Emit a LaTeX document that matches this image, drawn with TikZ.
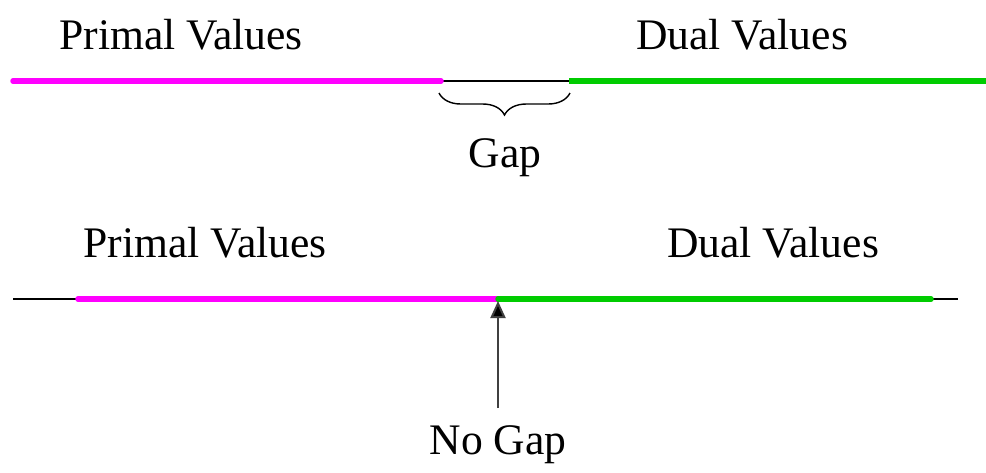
\documentclass[tikz,border=0pt]{standalone}
\usepackage{fontspec}
\setmainfont{Liberation Serif}
\usetikzlibrary{decorations.pathreplacing,arrows.meta}
\definecolor{primal}{RGB}{255,0,255}
\definecolor{dual}{RGB}{0,204,0}
\tikzset{
  lbl/.style={font=\fontsize{43.6}{50}\selectfont, inner sep=0pt, anchor=center},
  thinline/.style={line width=2pt, black},
  primalline/.style={line width=5.5pt, primal, line cap=round},
  dualline/.style={line width=5.5pt, dual, line cap=round},
}
\begin{document}
\begin{tikzpicture}[x=1pt,y=-1pt]
\useasboundingbox (0,0) rectangle (986,472);
% top
\node[lbl] (p1) at (181,35) {Primal Values};
\node[lbl] (d1) at (742,35) {Dual Values};
\coordinate (a1) at (13,81);
\coordinate (b1) at (441,81);
\coordinate (c1) at (569,81);
\coordinate (e1) at (986,81);
\draw[thinline] (b1) -- (c1);
\draw[primalline] (a1) -- (b1);
\draw[dualline,line cap=butt] (c1) -- (e1);
\coordinate (g1) at (439,93);
\coordinate (g2) at (570,93);
\draw[line width=1.4pt, decorate, decoration={brace, mirror, amplitude=22pt, aspect=0.5}] (g1) -- (g2);
\node[lbl] (gap) at (505,158) {Gap};
% bottom
\node[lbl] (p2) at (205,243) {Primal Values};
\node[lbl] (d2) at (773,243) {Dual Values};
\coordinate (a2) at (13,299);
\coordinate (b2) at (78,299);
\coordinate (m2) at (498,299);
\coordinate (c2) at (931,299);
\coordinate (e2) at (958,299);
\draw[thinline] (a2) -- (e2);
\draw[primalline] (b2) -- (m2);
\draw[dualline] (m2) -- (c2);
\node[lbl] (nogap) at (498,445) {No Gap};
\coordinate (t2) at (498,408);
\draw[line width=2pt, black!75, -{Triangle[length=17pt,width=15pt,fill=black]}] (t2) -- (498,301);
\end{tikzpicture}
\end{document}
